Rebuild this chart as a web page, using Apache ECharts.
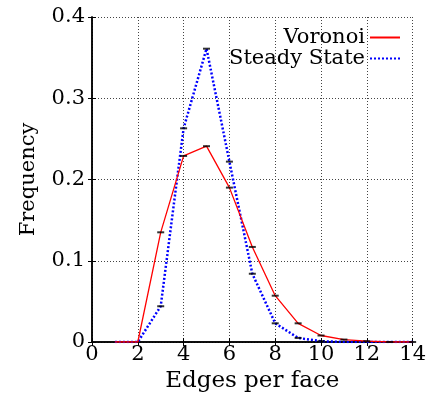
<!DOCTYPE html>
<html><head><meta charset="utf-8">
<script src="https://cdn.jsdelivr.net/npm/echarts@6/dist/echarts.min.js"></script>
<style>html,body{margin:0;padding:0;background:#fff}#c{width:429px;height:398px}</style>
</head><body><div id="c"></div>
<script>
const edges = [1,2,3,4,5,6,7,8,9,10,11,12,13,14];
const voronoi = [0,0,0.135,0.229,0.241,0.190,0.117,0.057,0.023,0.008,0.003,0.001,0,0];
const steady = [0,0,0.044,0.263,0.361,0.222,0.084,0.023,0.005,0.001,0,0,0,0];
const xTicks = [0,2,4,6,8,10,12,14];
const yTicks = [0,0.1,0.2,0.3,0.4];

const F = 'DejaVu Serif, Liberation Serif, serif';
const FS = 21;
const pair = (a) => edges.map((x,i)=>[x,a[i]]);
const chart = echarts.init(document.getElementById('c'));
const gridLine = {show:true, lineStyle:{color:'#444', type:[1,2], width:1}};
chart.setOption({
  animation:false,
  grid:{left:92, right:15.5, top:17, bottom:56},
  legend:{
    data:['Voronoi','Steady State'], orient:'vertical', align:'right',
    right:23, top:22, itemWidth:30, itemHeight:10, itemGap:0,
    itemStyle:{opacity:0},
    textStyle:{fontFamily:F, fontSize:FS, color:'#000', lineHeight:21}
  },
  xAxis:[{
    type:'value', min:0, max:14, interval:2,
    name:'Edges per face', nameLocation:'middle', nameGap:27,
    nameTextStyle:{fontFamily:F, fontSize:23, color:'#000'},
    axisLine:{lineStyle:{color:'#000', width:1.5}},
    axisTick:{inside:true, length:4, lineStyle:{color:'#000'}},
    axisLabel:{fontFamily:F, fontSize:FS, color:'#000', margin:2,
      formatter:(v)=> xTicks.includes(v)? String(v):''},
    splitLine:gridLine
  },{
    type:'value', min:0, max:14, interval:2, position:'top',
    axisLine:{lineStyle:{color:'#000', width:1.5}},
    axisTick:{inside:true, length:4, lineStyle:{color:'#000'}},
    axisLabel:{show:false}, splitLine:{show:false}
  }],
  yAxis:[{
    type:'value', min:0, max:0.4, interval:0.1,
    name:'Frequency', nameLocation:'middle', nameGap:53, nameRotate:90,
    nameTextStyle:{fontFamily:F, fontSize:FS, color:'#000'},
    axisLine:{show:true, lineStyle:{color:'#000', width:1.5}},
    axisTick:{show:true, inside:true, length:4, lineStyle:{color:'#000'}},
    axisLabel:{fontFamily:F, fontSize:FS, color:'#000', margin:7,
      formatter:(v)=>{const t=yTicks.find(y=>Math.abs(y-v)<1e-9); return t===undefined?'':String(t);}},
    splitLine:gridLine
  },{
    type:'value', min:0, max:0.4, interval:0.1, position:'right',
    axisLine:{show:true, lineStyle:{color:'#000', width:1.5}},
    axisTick:{show:true, inside:true, length:4, lineStyle:{color:'#000'}},
    axisLabel:{show:false}, splitLine:{show:false}
  }],
  series:[
    {name:'Voronoi', type:'line', data:pair(voronoi), symbol:'none',
      lineStyle:{color:'#ff0000', width:1.3}, itemStyle:{color:'#ff0000'}, z:3},
    {name:'Steady State', type:'line', data:pair(steady), symbol:'none',
      lineStyle:{color:'#0000ff', width:2.5, type:[2,2]}, itemStyle:{color:'#0000ff'}, z:2},
    {name:'vErr', type:'scatter', data:pair(voronoi).slice(2), symbol:'rect', symbolSize:[7,2],
      itemStyle:{color:'#000'}, z:4, silent:true},
    {name:'sErr', type:'scatter', data:pair(steady).slice(2,10), symbol:'rect', symbolSize:[7,2],
      itemStyle:{color:'#000'}, z:4, silent:true}
  ]
});
</script></body></html>
